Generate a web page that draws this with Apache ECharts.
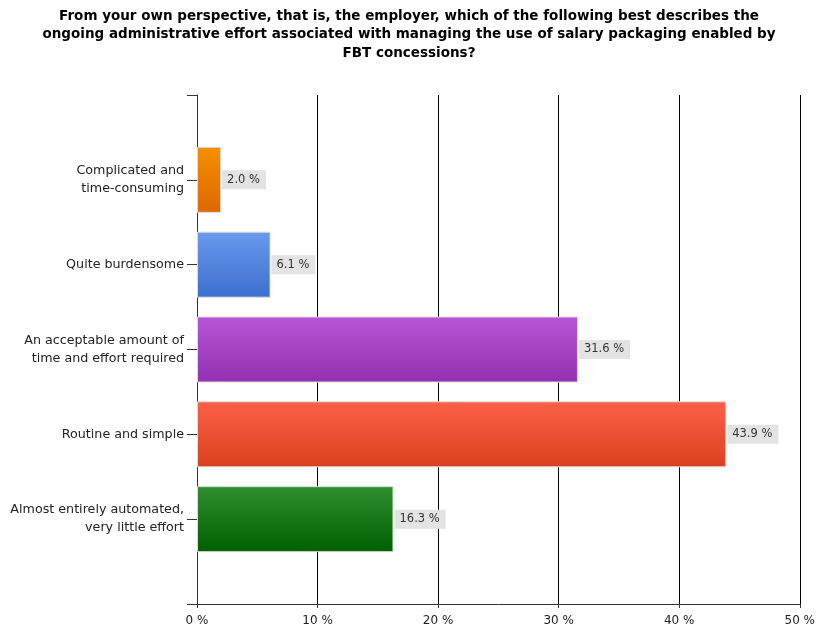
<!DOCTYPE html>
<html><head><meta charset="utf-8">
<script src="https://cdn.jsdelivr.net/npm/echarts@6/dist/echarts.min.js"></script>
<style>html,body{margin:0;padding:0;background:#fff;overflow:hidden}#c{width:818px;height:630px}</style>
</head><body><div id="c"></div>
<script>
var titleText = 'From your own perspective, that is, the employer, which of the following best describes the\nongoing administrative effort associated with managing the use of salary packaging enabled by\nFBT concessions?';
var categories = ['Complicated and\ntime-consuming', 'Quite burdensome', 'An acceptable amount of\ntime and effort required', 'Routine and simple', 'Almost entirely automated,\nvery little effort'];
var values = [2.0, 6.1, 31.6, 43.9, 16.3];
var colorTops = ['#F59000', '#6A9AEC', '#B655D6', '#FC6148', '#2F8F2F'];
var colorBottoms = ['#DD6800', '#3C6FCF', '#9330AF', '#D9411E', '#006000'];
var xTicks = [0, 10, 20, 30, 40, 50];

var cats = [''].concat(categories).concat(['']);
var data = [{value: '-', itemStyle: {}}];
values.forEach(function(v, i){
  data.push({value: v, itemStyle: {color: new echarts.graphic.LinearGradient(0,0,0,1,[{offset:0,color:colorTops[i]},{offset:1,color:colorBottoms[i]}])}});
});
data.push({value: '-'});

var FF = 'DejaVu Sans, sans-serif';
var chart = echarts.init(document.getElementById('c'));
chart.setOption({
  animation: false,
  textStyle: {fontFamily: FF},
  title: {text: titleText, left: 'center', top: 2, textStyle: {fontSize: 13.5, fontWeight: 'bold', color: '#000', lineHeight: 18.5, fontFamily: FF}},
  grid: {left: 197, right: 14, top: 95, bottom: 26, containLabel: false},
  xAxis: {type: 'value', min: xTicks[0], max: xTicks[xTicks.length-1], interval: 10,
    axisLine: {show: true, lineStyle: {color: '#333'}},
    axisTick: {show: true, length: 4, lineStyle: {color: '#333'}},
    splitLine: {show: true, lineStyle: {color: '#000', width: 1}},
    axisLabel: {formatter: '{value} %', color: '#222', fontSize: 12, margin: 11}},
  yAxis: {type: 'category', data: cats, inverse: true, boundaryGap: false,
    axisLine: {show: true, lineStyle: {color: '#333'}},
    axisTick: {show: true, length: 10, lineStyle: {color: '#333'}},
    splitLine: {show: false},
    axisLabel: {color: '#222', fontSize: 12.7, lineHeight: 18, margin: 13}},
  series: [{type: 'bar', data: data, barWidth: 66,
    itemStyle: {borderColor: '#dcdcdc', borderWidth: 1},
    label: {show: true, position: 'right', distance: 1, formatter: function(p){return p.value.toFixed(1) + ' %';},
      backgroundColor: '#e3e3e3', padding: [4, 6, 3, 5], color: '#333', fontSize: 11.5}}]
});
</script></body></html>
